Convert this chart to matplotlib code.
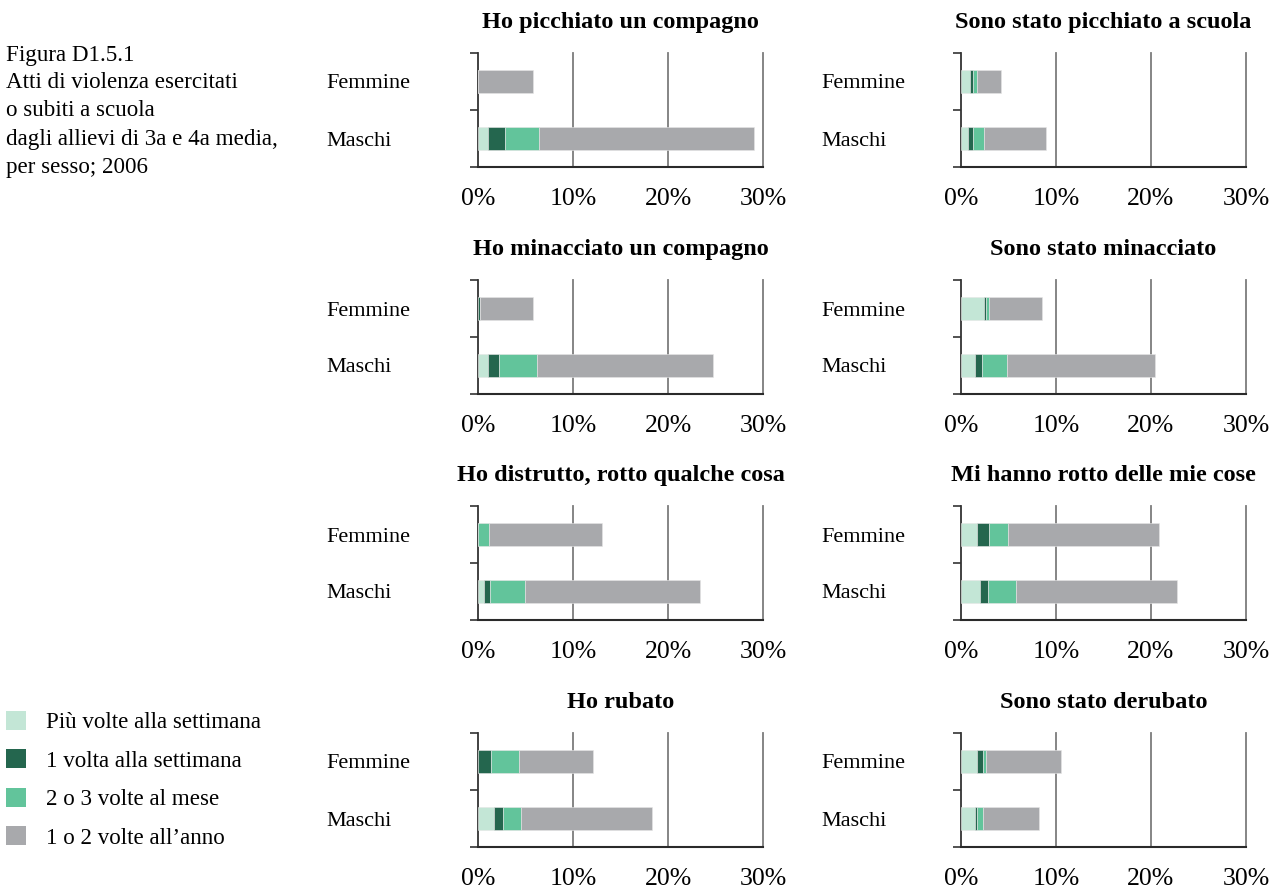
import matplotlib
matplotlib.use('Agg')
import matplotlib.pyplot as plt
from matplotlib.patches import Patch

plt.rcParams['font.family'] = ['Liberation Serif', 'DejaVu Serif']
plt.rcParams['font.size'] = 16

W, H = 1276, 892

groups = ['Maschi', 'Femmine']
series = ['Più volte alla settimana', '1 volta alla settimana',
          '2 o 3 volte al mese', '1 o 2 volte all’anno']
colors = ['#c3e6d6', '#24664e', '#62c49b', '#a8a9ac']

titles = ['Ho picchiato un compagno', 'Sono stato picchiato a scuola',
          'Ho minacciato un compagno', 'Sono stato minacciato',
          'Ho distrutto, rotto qualche cosa', 'Mi hanno rotto delle mie cose',
          'Ho rubato', 'Sono stato derubato']

# values in %, order of series; [Maschi, Femmine]
picchiato_m = [1.05, 1.8, 3.6, 22.6]
picchiato_f = [0.0, 0.0, 0.0, 5.8]
picchiato_sub_m = [0.75, 0.55, 1.15, 6.5]
picchiato_sub_f = [0.95, 0.35, 0.4, 2.5]
minacciato_m = [1.05, 1.15, 4.0, 18.5]
minacciato_f = [0.0, 0.2, 0.0, 5.55]
minacciato_sub_m = [1.5, 0.7, 2.6, 15.6]
minacciato_sub_f = [2.4, 0.2, 0.3, 5.6]
distrutto_m = [0.6, 0.65, 3.7, 18.4]
distrutto_f = [0.0, 0.0, 1.2, 11.8]
rotto_sub_m = [2.0, 0.8, 3.0, 16.9]
rotto_sub_f = [1.65, 1.3, 1.95, 15.95]
rubato_m = [1.65, 1.0, 1.9, 13.8]
rubato_f = [0.0, 1.4, 2.95, 7.8]
derubato_m = [1.45, 0.25, 0.65, 5.85]
derubato_f = [1.7, 0.65, 0.25, 7.9]

panels = [(picchiato_m, picchiato_f), (picchiato_sub_m, picchiato_sub_f),
          (minacciato_m, minacciato_f), (minacciato_sub_m, minacciato_sub_f),
          (distrutto_m, distrutto_f), (rotto_sub_m, rotto_sub_f),
          (rubato_m, rubato_f), (derubato_m, derubato_f)]

fig = plt.figure(figsize=(W / 100, H / 100), dpi=100)

row_top = [53, 280, 506, 733]
col_left = [478, 961]
col_lab = [326, 821]
ax_w, ax_h = 285, 114

for k, (vals_m, vals_f) in enumerate(panels):
    r, c = divmod(k, 2)
    ax = fig.add_axes([col_left[c] / W, 1 - (row_top[r] + ax_h) / H,
                       ax_w / W, ax_h / H])
    left = [0.0, 0.0]
    for s in range(4):
        v = [vals_m[s], vals_f[s]]
        ax.barh([0, 1], v, left=left, height=0.4, color=colors[s],
                edgecolor='#e6e6e6', linewidth=0.4, zorder=3)
        left = [left[0] + v[0], left[1] + v[1]]
    for x in [10, 20, 30]:
        ax.axvline(x, color='#7c7c7c', lw=1.3, clip_on=False, zorder=1)
    ax.set_xlim(0, 30)
    ax.set_ylim(-0.5, 1.5)
    ax.set_xticks([0, 10, 20, 30])
    ax.set_xticklabels(['0%', '10%', '20%', '30%'])
    ax.tick_params(axis='x', length=0, pad=15, labelsize=18.5)
    ax.set_yticks([0, 1])
    ax.set_yticklabels(groups)
    pad_pt = (col_left[c] - col_lab[c]) * 0.72
    ax.tick_params(axis='y', which='major', length=0, pad=pad_pt, labelsize=16)
    for lab in ax.get_yticklabels():
        lab.set_horizontalalignment('left')
    ax.set_yticks([-0.5, 0.5, 1.5], minor=True)
    ax.tick_params(axis='y', which='minor', length=6, width=1.2, color='#333333')
    for side in ['top', 'right']:
        ax.spines[side].set_visible(False)
    ax.spines['left'].set_color('#333333')
    ax.spines['left'].set_linewidth(1.3)
    ax.spines['bottom'].set_color('#2a2a2a')
    ax.spines['bottom'].set_linewidth(1.5)
    ax.set_title(titles[k], fontweight='bold', fontsize=17.5, pad=18)

desc = ['Figura D1.5.1', 'Atti di violenza esercitati', 'o subiti a scuola',
        'dagli allievi di 3a e 4a media,', 'per sesso; 2006']
for i, line in enumerate(desc):
    fig.text(6 / W, 1 - (55 + i * 28) / H, line, fontsize=16.6, va='center')

handles = [Patch(facecolor=col, edgecolor='none') for col in colors]
fig.legend(handles, series, loc='upper left',
           bbox_to_anchor=(6 / W, 1 - 711 / H), frameon=False,
           borderpad=0, borderaxespad=0, handlelength=0.87, handleheight=0.87,
           handletextpad=0.85, labelspacing=0.7, fontsize=16.6)

fig.savefig('out.png', dpi=100)
